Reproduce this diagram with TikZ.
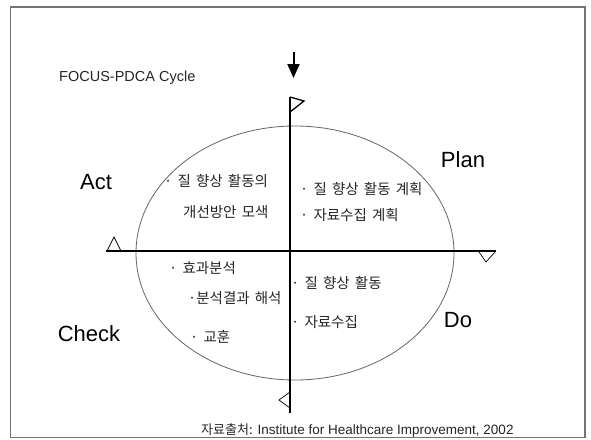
\documentclass[tikz,border=0pt]{standalone}
\usepackage{fontspec}
\setmainfont{Liberation Sans}
\newfontfamily\kr[WordSpace=1.6]{Noto Sans CJK KR}
\usetikzlibrary{arrows.meta}
\begin{document}
\begin{tikzpicture}[x=1pt,y=-1pt,
  axisline/.style={line width=2.6pt, black},
  cyc/.style={draw=black!60, line width=0.8pt},
  mark tri/.style={draw=black, line width=0.7pt},
  quad/.style={font=\fontsize{22}{24}\selectfont, inner sep=0pt},
  kt/.style={font=\kr\fontsize{14.5}{16}\selectfont, anchor=west, inner sep=0pt, text=black!85},
  ttl/.style={font=\fontsize{14.5}{16}\selectfont, anchor=west, inner sep=0pt, text=black!85}]
\useasboundingbox (0,0) rectangle (591,439);
\fill[white] (0,0) rectangle (591,439);
\draw[black!55, line width=1.2pt] (10.5,7) rectangle (585,437.5);
% title
\node[ttl] (title) at (59,78) {FOCUS-PDCA Cycle};
% ellipse
\draw[cyc] (295,253) ellipse [x radius=159, y radius=127];
% axes
\coordinate (vtop) at (290,97);
\coordinate (vbot) at (290,413);
\coordinate (hl) at (106,251);
\coordinate (hr) at (496,251);
\draw[axisline] (vtop) -- (vbot);
\draw[axisline] (hl) -- (hr);
% flag and markers
\draw[mark tri, line width=1.3pt] (290,97) -- (304,101) -- (290,112);
\draw[mark tri] (107,251) -- (114,237) -- (121,251);
\draw[mark tri] (479,252) -- (486,262) -- (495,252);
\draw[mark tri] (290,392) -- (279,400) -- (290,408);
% top arrow
\coordinate (a1) at (293.5,52);
\coordinate (a2) at (293.5,78);
\draw[line width=2pt, -{Triangle[width=12pt,length=14pt]}] (a1) -- (a2);
% quadrant labels
\node[quad] (act) at (96,182) {Act};
\node[quad] (plan) at (463,160) {Plan};
\node[quad] (check) at (89,334) {Check};
\node[quad] (do) at (458,320) {Do};
% act texts
\node[kt] (a1t) at (164,181) {· 질 향상 활동의};
\node[kt] (a2t) at (183,212) {개선방안 모색};
% plan texts
\node[kt] (p1t) at (300,189) {· 질 향상 활동 계획};
\node[kt] (p2t) at (300,215) {· 자료수집 계획};
% check texts
\node[kt] (c1t) at (169,268) {· 효과분석};
\node[kt] (c2t) at (188,298) {·분석결과 해석};
\node[kt] (c3t) at (190,337) {· 교훈};
% do texts
\node[kt] (d1t) at (291,283) {· 질 향상 활동};
\node[kt] (d2t) at (291,322) {· 자료수집};
% source
\node[anchor=west, inner sep=0pt, font=\fontsize{13.5}{15}\selectfont, text=black!85] (src) at (201,430) {{\kr\fontsize{13}{15}\selectfont 자료출처:} Institute for Healthcare Improvement, 2002};
\end{tikzpicture}
\end{document}
